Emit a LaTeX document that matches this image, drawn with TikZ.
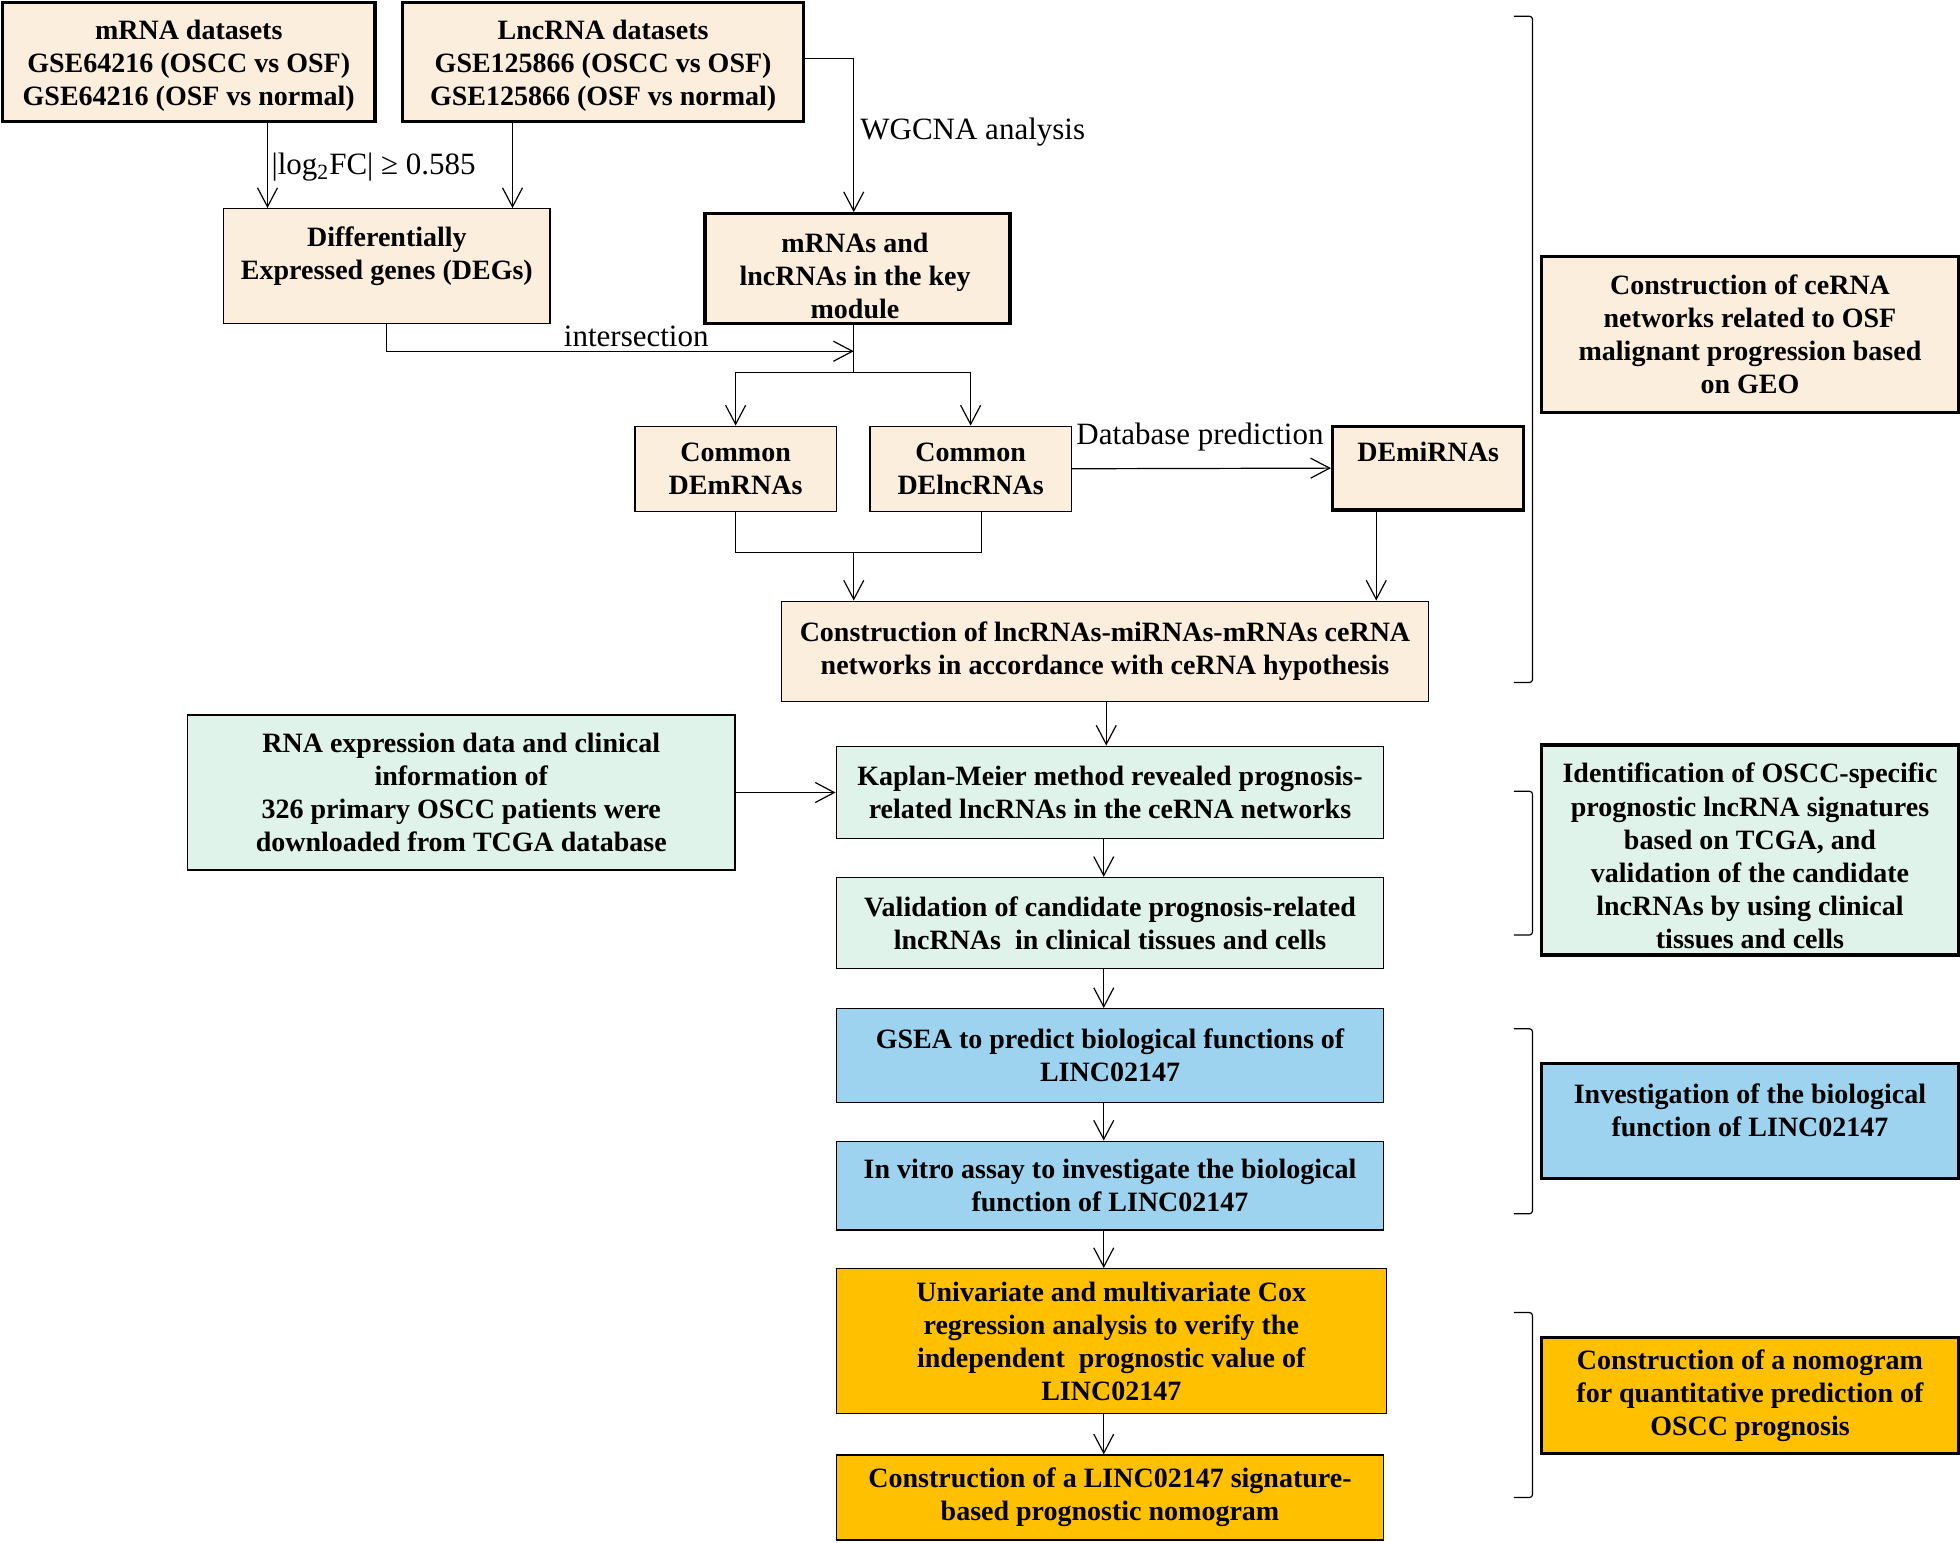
\documentclass[tikz,border=0pt]{standalone}
\usepackage{fontspec}
\setmainfont{Liberation Serif}
\usetikzlibrary{arrows.meta}
\definecolor{beige}{HTML}{FCEEDC}
\definecolor{mint}{HTML}{DFF3EA}
\definecolor{sky}{HTML}{9DD3EE}
\definecolor{amber}{HTML}{FFC000}
\begin{document}
\begin{tikzpicture}[x=0.625pt,y=-0.625pt,
  txt/.style={align=center, inner sep=0pt, font=\fontsize{14}{16.6}\selectfont\bfseries},
  box/.style={txt, draw=black, line width=0.7pt},
  tbox/.style={box, line width=1.6pt},
  lbl/.style={font=\fontsize{15.5}{18}\selectfont, inner sep=0pt},
  conn/.style={line width=0.6pt},
  arr/.style={conn, -{Straight Barb[length=9.5pt,width=10pt]}},
  brk/.style={line width=0.6pt, rounded corners=1.5pt}]
\useasboundingbox (0,0) rectangle (1568,1234);

% ---- GEO part
\node[tbox, fill=beige, minimum width=186.25pt, minimum height=59.4pt] (mrna) at (151,49.5) {};
\node[txt] (mrnatxt) at (151,52.5)
  {mRNA datasets\\GSE64216 (OSCC vs OSF)\\GSE64216 (OSF vs normal)};
\node[tbox, fill=beige, minimum width=200.6pt, minimum height=59.4pt] (lnc) at (482.5,49.5) {};
\node[txt] (lnctxt) at (482.5,52.5)
  {LncRNA datasets\\GSE125866 (OSCC vs OSF)\\GSE125866 (OSF vs normal)};
\node[box, fill=beige, minimum width=163.1pt, minimum height=57.5pt] (deg) at (309.5,213) {};
\node[txt] (degtxt) at (309.5,205)
  {Differentially\\Expressed genes (DEGs)};
\node[tbox, fill=beige, minimum width=152.5pt, minimum height=55pt] (key) at (686,215) {};
\node[txt] (keytxt) at (684,221)
  {mRNAs and\\lncRNAs in the key\\module};
\node[box, fill=beige, minimum width=100.6pt, minimum height=42.5pt] (dem) at (588.5,375)
  {Common\\DEmRNAs};
\node[box, fill=beige, minimum width=100.6pt, minimum height=42.5pt] (delnc) at (776.5,375)
  {Common\\DElncRNAs};
\node[tbox, fill=beige, minimum width=95.6pt, minimum height=41.9pt] (demi) at (1142.5,374.5)
  {DEmiRNAs\\~};
\node[box, fill=beige, minimum width=323.75pt, minimum height=50pt] (cerna) at (884,521)
  {Construction of lncRNAs-miRNAs-mRNAs ceRNA\\networks in accordance with ceRNA hypothesis};

% ---- TCGA part
\node[box, fill=mint, minimum width=273.75pt, minimum height=77.5pt] (rna) at (369,634)
  {RNA expression data and clinical\\information of\\326 primary OSCC patients were\\downloaded from TCGA database};
\node[box, fill=mint, minimum width=273.75pt, minimum height=46.25pt] (kaplan) at (888,634)
  {Kaplan-Meier method revealed prognosis-\\related lncRNAs in the ceRNA networks};
\node[box, fill=mint, minimum width=273.75pt, minimum height=45.6pt] (valid) at (888,738.5)
  {Validation of candidate prognosis-related\\lncRNAs\ \ in clinical tissues and cells};
\node[box, fill=sky, minimum width=273.75pt, minimum height=46.9pt] (gsea) at (888,844.5)
  {GSEA to predict biological functions of\\LINC02147};
\node[box, fill=sky, minimum width=273.75pt, minimum height=44.4pt] (invitro) at (888,948.5)
  {In vitro assay to investigate the biological\\function of LINC02147};
\node[box, fill=amber, minimum width=275pt, minimum height=72.5pt] (univ) at (889,1073)
  {Univariate and multivariate Cox\\regression analysis to verify the\\independent\ \ prognostic value of\\LINC02147};
\node[box, fill=amber, minimum width=273.75pt, minimum height=42.5pt] (linc) at (888,1198)
  {Construction of a LINC02147 signature-\\based prognostic nomogram};

% ---- right summary boxes
\node[tbox, fill=beige, minimum width=208.75pt, minimum height=78.1pt] (r1) at (1400,267.5)
  {Construction of ceRNA\\networks related to OSF\\malignant progression based\\on GEO};
\node[tbox, fill=mint, minimum width=208.75pt, minimum height=105pt] (r2) at (1400,680) {};
\node[txt] (r2txt) at (1400,685)
  {Identification of OSCC-specific\\prognostic lncRNA signatures\\based on TCGA, and\\validation of the candidate\\lncRNAs by using clinical\\tissues and cells};
\node[tbox, fill=sky, minimum width=208.75pt, minimum height=57.5pt] (r3) at (1400,897) {};
\node[txt] (r3txt) at (1400,888)
  {Investigation of the biological\\function of LINC02147};
\node[tbox, fill=amber, minimum width=208.75pt, minimum height=58.1pt] (r4) at (1400,1116.5)
  {Construction of a nomogram\\for quantitative prediction of\\OSCC prognosis};

% ---- brackets
\draw[brk] (1211,13) -- (1226,13) -- (1226,546) -- (1211,546);
\draw[brk] (1211,633) -- (1226,633) -- (1226,748) -- (1211,748);
\draw[brk] (1211,823) -- (1226,823) -- (1226,971) -- (1211,971);
\draw[brk] (1211,1050) -- (1226,1050) -- (1226,1198) -- (1211,1198);

% ---- connectors
\draw[arr] (214,0 |- mrna.south) -- (214,0 |- deg.north);
\draw[arr] (410,0 |- lnc.south) -- (410,0 |- deg.north);
\node[lbl, anchor=west] (fc) at (217,134) {|log\textsubscript{2}FC| ≥ 0.585};
\draw[arr] (643,47) -| (683,0 |- key.north);
\node[lbl, anchor=west] (wg) at (688,106) {WGCNA analysis};

\coordinate (meet) at (683,281);
\coordinate (split) at (683,298);
\draw[conn] (683,0 |- key.south) -- (split);
\draw[arr] (deg.south) |- (meet);
\node[lbl] (inter) at (509,269) {intersection};
\draw[arr] (split) -| (dem.north);
\draw[arr] (split) -| (delnc.north);

\draw[arr] (delnc.east) -- (demi.west);
\node[lbl] (dbp) at (960,350) {Database prediction};

\coordinate (j2) at (683,442);
\draw[conn] (dem.south) |- (785,442) -- (785,0 |- delnc.south);
\draw[arr] (j2) -- (683,0 |- cerna.north);
\draw[arr] (1101,0 |- demi.south) -- (1101,0 |- cerna.north);

\draw[arr] (885,0 |- cerna.south) -- (885,0 |- kaplan.north);
\draw[arr] (rna.east) -- (kaplan.west);
\draw[arr] (883,0 |- kaplan.south) -- (883,0 |- valid.north);
\draw[arr] (883,0 |- valid.south) -- (883,0 |- gsea.north);
\draw[arr] (883,0 |- gsea.south) -- (883,0 |- invitro.north);
\draw[arr] (883,0 |- invitro.south) -- (883,0 |- univ.north);
\draw[arr] (883,0 |- univ.south) -- (883,0 |- linc.north);
\end{tikzpicture}
\end{document}
